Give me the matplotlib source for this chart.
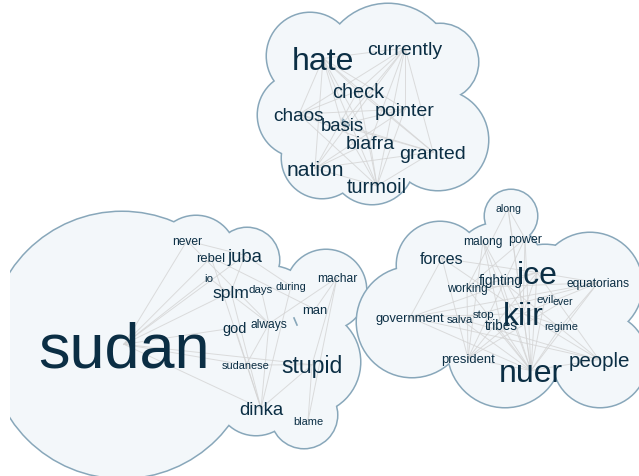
import matplotlib.pyplot as plt
from matplotlib.patches import Circle, Rectangle

plt.rcParams['font.family'] = ['Liberation Sans', 'DejaVu Sans']

# word clusters: word, weight (font px), x, baseline y (pixel layout)
top_words = ['hate', 'currently', 'check', 'chaos', 'pointer', 'basis',
             'biafra', 'granted', 'nation', 'turmoil']
top_size = [32, 19.5, 20, 19, 19.5, 18.5, 19.5, 19.5, 21, 20]
top_x = [323, 405, 358, 299, 405, 342, 370, 433, 315, 377]
top_y = [70, 55, 98, 121, 116, 131, 149, 159, 176, 193]

left_words = ['sudan', 'never', 'rebel', 'juba', 'io', 'splm', 'days', 'during',
              'machar', 'man', 'god', 'always', 'sudanese', 'stupid', 'dinka', 'blame']
left_size = [63, 12, 13, 18.5, 11.5, 17.5, 11.5, 11, 12, 13, 14.5, 12, 11, 23, 18.5, 11]
left_x = [124, 187, 211, 245, 209, 231, 261, 291, 337, 315, 235, 269, 246, 312, 261, 308]
left_y = [367, 245, 262, 262, 282, 298, 293, 290, 282, 314, 333, 328, 369, 373, 415, 425]

right_words = ['along', 'malong', 'power', 'forces', 'ice', 'fighting', 'equatorians',
               'working', 'evil', 'ever', 'kiir', 'government', 'salva', 'stop',
               'tribes', 'regime', 'president', 'nuer', 'people']
right_size = [10.5, 12, 12.5, 16, 32, 13.5, 12, 11.8, 11.5, 10.5, 32, 13, 11.2, 11.5,
              13.5, 11, 13, 32, 20.5]
right_x = [508, 483, 525, 442, 537, 501, 598, 467, 545, 563, 523, 410, 460, 484,
           501, 561, 468, 531, 599]
right_y = [212, 245, 243, 264, 284, 285, 287, 292, 303, 305, 325, 322, 323, 318,
           330, 330, 363, 382, 367]

top_edges = [('hate', 'currently'), ('hate', 'check'), ('hate', 'chaos'), ('hate', 'basis'),
             ('hate', 'biafra'), ('hate', 'nation'), ('hate', 'turmoil'), ('hate', 'granted'),
             ('hate', 'pointer'), ('currently', 'check'), ('currently', 'chaos'),
             ('currently', 'basis'), ('currently', 'biafra'), ('currently', 'granted'),
             ('currently', 'nation'), ('currently', 'turmoil'), ('currently', 'pointer'),
             ('check', 'nation'), ('check', 'granted'), ('check', 'turmoil'),
             ('chaos', 'pointer'), ('chaos', 'granted'), ('chaos', 'turmoil'),
             ('chaos', 'biafra'), ('basis', 'granted'), ('basis', 'turmoil'),
             ('pointer', 'nation'), ('pointer', 'turmoil'), ('pointer', 'basis'),
             ('biafra', 'nation'), ('biafra', 'turmoil'), ('granted', 'nation'),
             ('granted', 'turmoil'), ('nation', 'turmoil'), ('check', 'chaos')]

left_edges = [('sudan', 'never'), ('sudan', 'rebel'), ('sudan', 'io'), ('sudan', 'splm'),
              ('sudan', 'juba'), ('sudan', 'god'), ('sudan', 'stupid'), ('sudan', 'sudanese'),
              ('sudan', 'dinka'), ('never', 'juba'), ('never', 'always'), ('rebel', 'dinka'),
              ('juba', 'during'), ('juba', 'splm'), ('io', 'always'), ('splm', 'dinka'),
              ('days', 'always'), ('during', 'dinka'), ('machar', 'man'), ('machar', 'stupid'),
              ('machar', 'always'), ('machar', 'blame'), ('always', 'dinka'),
              ('always', 'sudanese'), ('god', 'dinka'), ('stupid', 'dinka'),
              ('stupid', 'blame'), ('sudanese', 'stupid'), ('rebel', 'man')]

right_edges = [('along', 'kiir'), ('along', 'nuer'), ('along', 'power'), ('along', 'working'),
               ('malong', 'kiir'), ('malong', 'nuer'), ('malong', 'tribes'), ('power', 'kiir'),
               ('power', 'nuer'), ('power', 'president'), ('power', 'working'),
               ('forces', 'kiir'), ('forces', 'ice'), ('forces', 'president'), ('forces', 'government'),
               ('ice', 'kiir'), ('ice', 'nuer'), ('ice', 'working'), ('ice', 'government'),
               ('ice', 'president'), ('ice', 'people'), ('ice', 'equatorians'),
               ('equatorians', 'kiir'), ('equatorians', 'nuer'), ('equatorians', 'regime'),
               ('equatorians', 'salva'), ('working', 'nuer'), ('working', 'president'),
               ('working', 'equatorians'), ('kiir', 'nuer'), ('kiir', 'people'),
               ('kiir', 'government'), ('kiir', 'president'), ('kiir', 'regime'),
               ('government', 'nuer'), ('government', 'people'), ('government', 'equatorians'),
               ('salva', 'nuer'), ('salva', 'people'), ('stop', 'nuer'), ('tribes', 'nuer'),
               ('regime', 'nuer'), ('president', 'nuer'), ('nuer', 'people'),
               ('evil', 'nuer'), ('ever', 'president'), ('fighting', 'nuer'),
               ('fighting', 'people'), ('malong', 'president')]

# cloud outlines as unions of circles (cx, cy, r)
top_cloud = [(388, 70, 66), (310, 56, 43), (300, 115, 42), (322, 158, 40), (372, 162, 42),
             (438, 140, 50), (440, 62, 38), (400, 130, 50)]
left_cloud = [(122, 345, 133), (196, 256, 40), (247, 260, 32), (268, 318, 52),
              (326, 290, 40), (308, 362, 52), (304, 415, 33), (256, 395, 40)]
right_cloud = [(511, 216, 26), (440, 265, 43), (498, 268, 45), (590, 285, 52),
               (412, 322, 55), (505, 350, 57), (600, 360, 47), (545, 300, 55),
               (470, 310, 40)]

fill_c = '#f3f7fa'
line_c = '#88a7ba'
text_c = '#0b2e44'

fig = plt.figure(figsize=(6.39, 4.76), dpi=100)
ax = fig.add_axes([0, 0, 1, 1])
ax.set_xlim(0, 639)
ax.set_ylim(476, 0)
ax.set_aspect('equal')
ax.axis('off')

# the drawing area starts a few pixels in from the left edge
clip = Rectangle((10, 0), 629, 476, transform=ax.transData, visible=False)
ax.add_patch(clip)

clusters = [(top_cloud, top_words, top_size, top_x, top_y, top_edges),
            (left_cloud, left_words, left_size, left_x, left_y, left_edges),
            (right_cloud, right_words, right_size, right_x, right_y, right_edges)]

z = 1
for cloud, words, sizes, xs, ys, edges in clusters:
    for cx, cy, r in cloud:
        c = ax.add_patch(Circle((cx, cy), r, facecolor=fill_c, edgecolor=line_c,
                                lw=2.2, zorder=z))
        c.set_clip_path(clip)
    for cx, cy, r in cloud:
        c = ax.add_patch(Circle((cx, cy), r, facecolor=fill_c, edgecolor='none',
                                zorder=z + 1))
        c.set_clip_path(clip)
    centers = {w: (x, y - 0.36 * s) for w, s, x, y in zip(words, sizes, xs, ys)}
    for a, b in edges:
        (x0, y0), (x1, y1) = centers[a], centers[b]
        ax.plot([x0, x1], [y0, y1], color='#d4d4d4', lw=0.7, alpha=0.8, zorder=z + 2)
    for w, s, x, y in zip(words, sizes, xs, ys):
        ax.text(x, y, w, fontsize=s * 0.72, color=text_c, ha='center', va='baseline',
                zorder=z + 3)
    z += 4

# small stray outline fragment next to "man"
ax.plot([294, 297], [318, 325], color=line_c, lw=1.2, zorder=z)

fig.savefig('out.png', dpi=100)
